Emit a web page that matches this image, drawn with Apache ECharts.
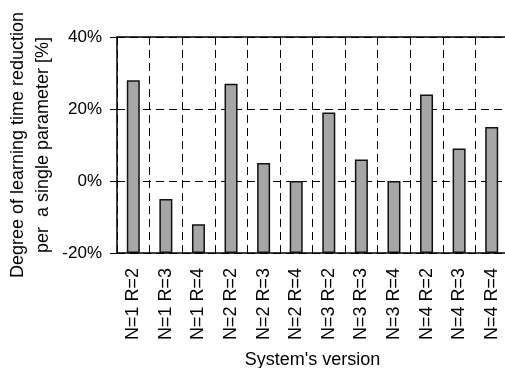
<!DOCTYPE html>
<html>
<head>
<meta charset="utf-8">
<script src="https://cdn.jsdelivr.net/npm/echarts@6/dist/echarts.min.js"></script>
<style>html,body{margin:0;padding:0;background:#fff;}#c{width:505px;height:368px;}</style>
</head>
<body>
<div id="c"></div>
<script>
const categories = ['N=1 R=2','N=1 R=3','N=1 R=4','N=2 R=2','N=2 R=3','N=2 R=4','N=3 R=2','N=3 R=3','N=3 R=4','N=4 R=2','N=4 R=3','N=4 R=4'];
const values = [28, -5, -12, 27, 5, 0, 19, 6, 0, 24, 9, 15];
const yMin = -20, yMax = 40, yStep = 20;
const yTitle = 'Degree of learning time reduction\nper  a single parameter [%]';
const xTitle = "System's version";

const font = 'Liberation Sans, Arial, sans-serif';
const chart = echarts.init(document.getElementById('c'), null, {renderer: 'canvas'});
const dash = {color: '#000', width: 1, type: [8, 5]};
chart.setOption({
  animation: false,
  grid: {left: 117, top: 37, bottom: 115, right: -3, containLabel: false, outerBoundsMode: 'none'},
  xAxis: [{
    type: 'category',
    data: categories,
    position: 'bottom',
    axisLine: {lineStyle: {color: '#000', width: 1.5}},
    axisTick: {length: 5, lineStyle: {color: '#000', width: 1}},
    axisLabel: {rotate: 90, margin: 15, color: '#000', fontSize: 18, fontFamily: font},
    splitLine: {show: true, lineStyle: dash},
    name: xTitle,
    nameLocation: 'middle',
    nameGap: 98,
    nameMoveOverlap: false,
    nameTextStyle: {color: '#000', fontSize: 18, fontFamily: font}
  }, {
    type: 'category',
    data: categories,
    position: 'top',
    axisLine: {show: true, lineStyle: {color: '#000', width: 1.5}},
    axisTick: {show: false},
    axisLabel: {show: false},
    splitLine: {show: false}
  }],
  yAxis: {
    type: 'value',
    min: 0,
    max: yMax - yMin,
    interval: yStep,
    axisLine: {show: true, lineStyle: {color: '#000', width: 1.5}},
    axisTick: {show: true, length: 7, lineStyle: {color: '#000', width: 1}},
    axisLabel: {margin: 15, color: '#000', fontSize: 17, fontFamily: font,
      formatter: v => (v + yMin) + '%'},
    splitLine: {show: true, lineStyle: dash},
    name: yTitle,
    nameLocation: 'middle',
    nameGap: 61,
    nameRotate: 90,
    nameMoveOverlap: false,
    nameTextStyle: {color: '#000', fontSize: 18, fontFamily: font, lineHeight: 25, align: 'center'}
  },
  series: [{
    type: 'bar',
    data: values.map(v => v - yMin),
    barWidth: 13,
    itemStyle: {color: '#a6a6a6', borderColor: '#111', borderWidth: 1.5}
  }]
});
</script>
</body>
</html>
